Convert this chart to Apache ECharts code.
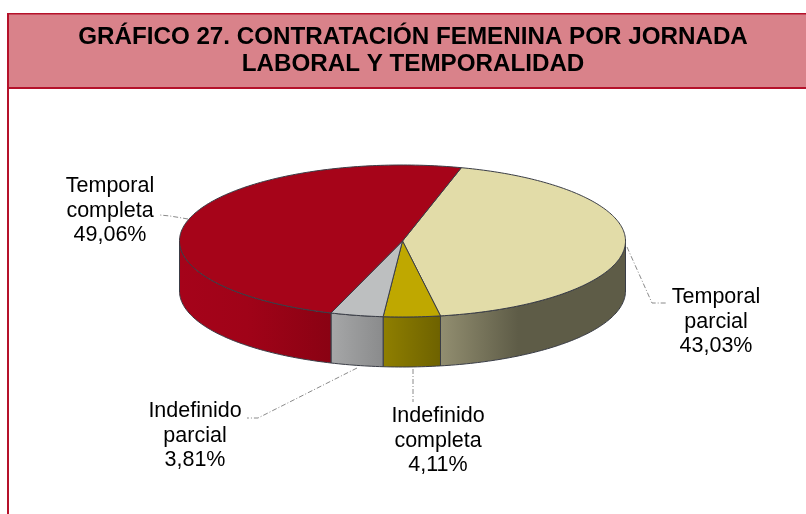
<!DOCTYPE html>
<html><head><meta charset="utf-8">
<style>html,body{margin:0;padding:0;background:#fff}#c{width:806px;height:514px}</style>
<script src="https://cdn.jsdelivr.net/npm/echarts@6/dist/echarts.min.js"></script>
</head><body><div id="c"></div>
<script>
// --- data ---
var titleLines = ['GRÁFICO 27. CONTRATACIÓN FEMENINA POR JORNADA', 'LABORAL Y TEMPORALIDAD'];
var categories = ['Temporal\nparcial', 'Indefinido\ncompleta', 'Indefinido\nparcial', 'Temporal\ncompleta'];
var values = [43.03, 4.11, 3.81, 49.06];
var valueLabels = ['43,03%', '4,11%', '3,81%', '49,06%'];

// --- styles / layout ---
var topColors = ['#e2dca8', '#bfa800', '#bdbfc0', '#a60419'];
var sideStops = [
  [[0, '#928e70'], [0.42, '#5e5c47'], [1, '#5e5c47']],
  [[0, '#8f7f00'], [1, '#6e6200']],
  [[0, '#a6a7a8'], [1, '#8a8b8c']],
  [[0, '#a5031a'], [0.45, '#a00318'], [1, '#8a0213']]
];
var labelPos = [[716, 322], [438, 441], [195, 436], [110, 211]];
var leaders = [
  [[627, 247], [652, 303], [666, 303]],
  [[413, 369], [413, 402]],
  [[357, 368], [258, 418], [247, 418]],
  [[188, 219], [170, 216], [160, 215]]
];
var pie3d = { cx: 402.5, cy: 241, rx: 223, ry: 76, depth: 50, startDeg: 15.3 };

var total = values.reduce(function (a, b) { return a + b; }, 0);
var starts = [], acc = pie3d.startDeg;
values.forEach(function (v) { starts.push(acc); acc += v / total * 360; });

function pt(deg, dy) {
  var r = deg * Math.PI / 180;
  return [pie3d.cx + pie3d.rx * Math.sin(r), pie3d.cy - pie3d.ry * Math.cos(r) + (dy || 0)];
}
function arc(a0, a1, dy) {
  var out = [], n = Math.max(2, Math.ceil(Math.abs(a1 - a0)));
  for (var i = 0; i <= n; i++) out.push(pt(a0 + (a1 - a0) * i / n, dy));
  return out;
}

function renderItem(params, api) {
  var i = params.dataIndex, v = api.value(0);
  var a0 = starts[i], a1 = a0 + v / total * 360;
  var children = [];
  // visible wall = part of the slice on the front half (90..270 deg)
  var s0 = Math.max(a0, 90), s1 = Math.min(a1, 270);
  if (s1 > s0) {
    var upper = arc(s0, s1, 0), lower = arc(s0, s1, pie3d.depth).reverse();
    var xs = upper.map(function (p) { return p[0]; });
    var xa = Math.min.apply(null, xs), xb = Math.max.apply(null, xs);
    children.push({
      type: 'polygon', shape: { points: upper.concat(lower) },
      style: {
        fill: new echarts.graphic.LinearGradient(xa, 0, xb, 0, sideStops[i].map(function (s) {
          return { offset: s[0], color: s[1] };
        }), true),
        stroke: '#3a3d46', lineWidth: 1, lineJoin: 'round'
      }
    });
  }
  children.push({
    type: 'polygon', shape: { points: [[pie3d.cx, pie3d.cy]].concat(arc(a0, a1, 0)) },
    style: { fill: topColors[i], stroke: '#3a3d46', lineWidth: 1, lineJoin: 'round' }
  });
  children.push({
    type: 'polyline', shape: { points: leaders[i] },
    style: { fill: null, stroke: '#8a8a8a', lineWidth: 1, lineDash: [5, 2, 1, 2] }
  });
  children.push({
    type: 'text', x: labelPos[i][0], y: labelPos[i][1],
    style: {
      text: categories[i] + '\n' + valueLabels[i],
      fill: '#000', font: '21.5px "Liberation Sans", Arial, sans-serif',
      align: 'center', verticalAlign: 'middle', lineHeight: 24.5
    }
  });
  return { type: 'group', children: children };
}

var chart = echarts.init(document.getElementById('c'), null, { renderer: 'canvas' });
chart.setOption({
  animation: false,
  backgroundColor: '#fff',
  title: {
    text: titleLines.join('\n'),
    left: 408, top: 19, textAlign: 'center',
    textStyle: { fontFamily: '"Liberation Sans", Arial, sans-serif', fontWeight: 'bold', fontSize: 24.2, lineHeight: 27, color: '#000' }
  },
  graphic: [
    { type: 'rect', z: -10, shape: { x: 8, y: 14, width: 798, height: 73 }, style: { fill: '#d9828a' } },
    { type: 'rect', z: -9, shape: { x: 7, y: 13, width: 799, height: 1.5 }, style: { fill: '#b5112a' } },
    { type: 'rect', z: -9, shape: { x: 7, y: 87, width: 799, height: 2 }, style: { fill: '#b5112a' } },
    { type: 'rect', z: -9, shape: { x: 7, y: 13, width: 2, height: 501 }, style: { fill: '#b5112a' } }
  ],
  series: [{
    type: 'custom',
    coordinateSystem: 'none',
    renderItem: renderItem,
    data: values.map(function (v, i) { return { name: categories[i], value: [v] }; }),
    silent: true
  }]
});
</script></body></html>
